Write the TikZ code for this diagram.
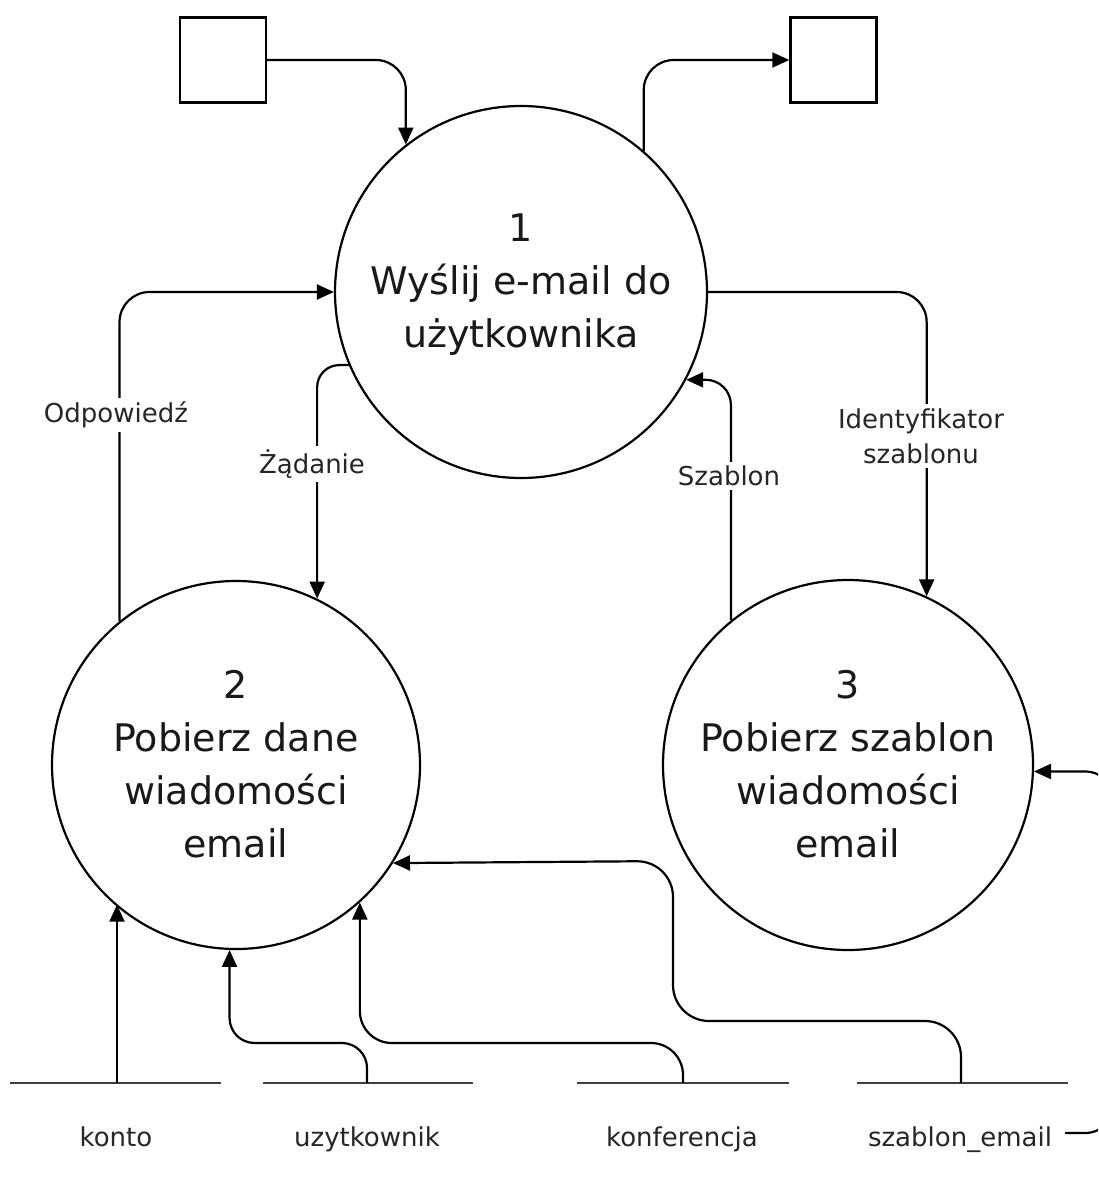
\documentclass[tikz,border=0pt]{standalone}
\usepackage{fontspec}
\setmainfont{DejaVu Sans}
\usetikzlibrary{arrows.meta,calc}
\begin{document}
\begin{tikzpicture}[x=1pt,y=-1pt,
 proc/.style={circle,draw,line width=2.2pt,minimum size=#1,inner sep=0pt},
 ext/.style={draw,line width=2.4pt,minimum width=86pt,minimum height=85pt,inner sep=0pt},
 flow/.style={line width=2.2pt,rounded corners=30pt,-{Triangle[length=17pt,width=15pt]}},
 flowlbl/.style={fill=white,text=black!85,font=\fontsize{26}{35}\selectfont,align=center,inner sep=4pt},
 big/.style={text=black!90,font=\fontsize{38}{53}\selectfont,align=center},
 store/.style={line width=2.8pt,black!75},
 storelbl/.style={text=black!85,font=\fontsize{26}{30}\selectfont,anchor=base}]
\useasboundingbox (0,0) rectangle (1098,1182);
\clip (0,0) rectangle (1098,1182);
\fill[white] (0,0) rectangle (1098,1182);

% processes
\node[proc=372pt] (c1) at (521,292) {};
\node[proc=368pt] (c2) at (236,765) {};
\node[proc=370pt] (c3) at (848,765) {};
\node[big] (t1) at (521,285) {1\\Wyślij e-mail do\\użytkownika};
\node[big] (t2) at (236,764) {2\\Pobierz dane\\wiadomości\\email};
\node[big] (t3) at (848,764) {3\\Pobierz szablon\\wiadomości\\email};

% external entities
\node[ext] (e1) at (223,60) {};
\node[ext] (e2) at (833.5,60) {};

% data stores
\draw[store] (10,1083) -- (221,1083);
\draw[store] (263,1083) -- (473,1083);
\draw[store] (577,1083) -- (789,1083);
\draw[store] (857,1083) -- (1068,1083);
\coordinate (s1) at (117,1083);
\coordinate (s2) at (367,1083);
\coordinate (s3) at (683,1083);
\coordinate (s4) at (961,1083);
\node[storelbl] (n1) at (116,1146) {konto};
\node[storelbl] (n2) at (367,1146) {uzytkownik};
\node[storelbl] (n3) at (682,1146) {konferencja};
\node[storelbl] (n4) at (960,1146) {szablon\_email};
\coordinate (lp) at (1065,1133);

% flows
\draw[flow] (e1.east) -| (c1.128.3);
\draw[flow] (c1.49.3) |- (e2.west);
\draw[flow] (c2.129.2) |- (c1.west);
\draw[flow,rounded corners=22pt] (c1.203.7) -| (c2.64.7);
\draw[flow,rounded corners=25pt] (c3.129.3) |- (c1.332.3);
\draw[flow] (c1.east) -| (c3.65.4);

\draw[flow] (s1) -- (s1 |- c2.229.7);
\draw[flow,rounded corners=25pt] (s2) -- ++(0,-40) -| (c2.268.8);
\draw[flow,rounded corners=32pt] (s3) -- ++(0,-40) -| (c2.312.4);
\draw[flow,rounded corners=36pt] (s4) -- ++(0,-62) -- ++(-288,0) -- ++(0,-160) -- (c2.328.6);
\draw[flow,rounded corners=30pt] (lp) -- ++(50,0) |- (c3.358.5);

% flow labels
\node[flowlbl] (l1) at (116,415) {Odpowiedź};
\node[flowlbl] (l2) at (312,464) {Żądanie};
\node[flowlbl] (l3) at (729,476) {Szablon};
\node[flowlbl] (l4) at (921,436) {Identyfikator\\szablonu};
\end{tikzpicture}
\end{document}
